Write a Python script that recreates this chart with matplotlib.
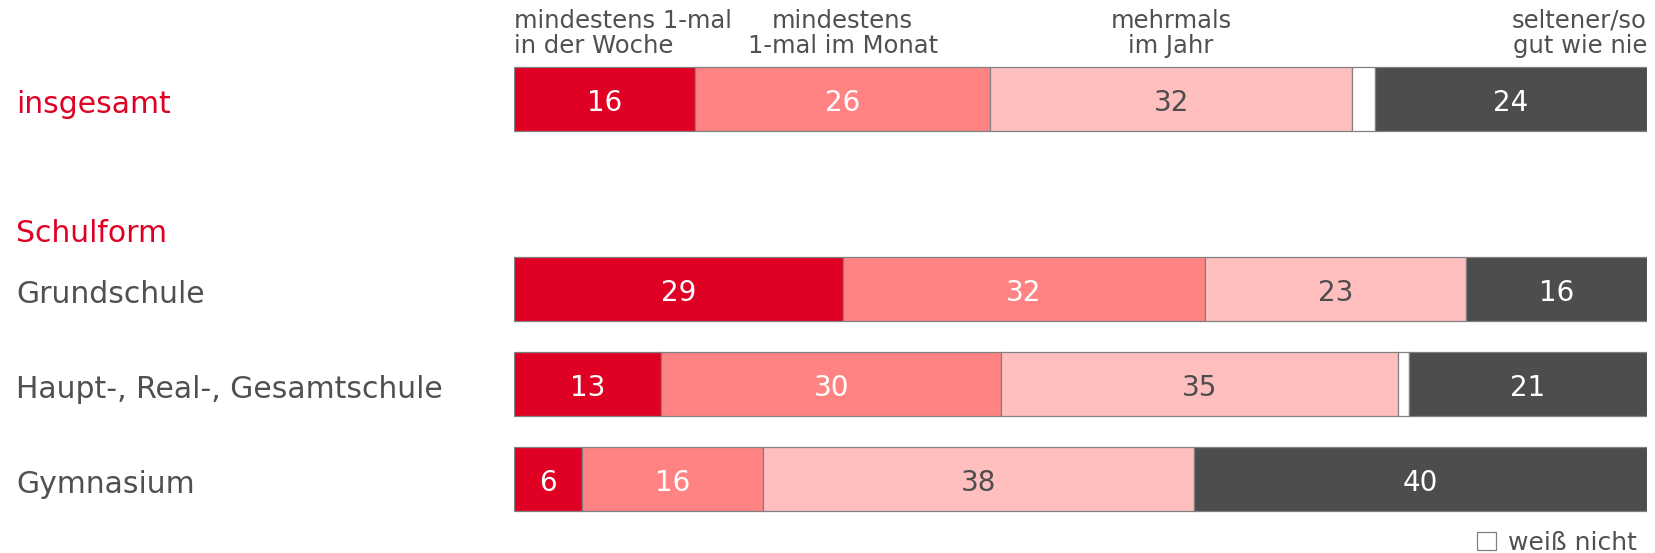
"""Gestapeltes Balkendiagramm: Häufigkeit nach Schulform."""

import matplotlib
matplotlib.use("Agg")
import matplotlib.pyplot as plt
from matplotlib.patches import Patch
from matplotlib.transforms import blended_transform_factory

# --- data -------------------------------------------------------------
rows = ["insgesamt", "Grundschule", "Haupt-, Real-, Gesamtschule", "Gymnasium"]
row_pos = [0, 2, 3, 4]
categories = [
    "mindestens 1-mal\nin der Woche",
    "mindestens\n1-mal im Monat",
    "mehrmals\nim Jahr",
    "weiß nicht",
    "seltener/so\ngut wie nie",
]
values = [
    [16, 26, 32, 2, 24],
    [29, 32, 23, 0, 16],
    [13, 30, 35, 1, 21],
    [6, 16, 38, 0, 40],
]
group_label = "Schulform"

colors = ["#DF0024", "#FF8383", "#FFBFBF", "#FFFFFF", "#4D4D4D"]
text_colors = ["white", "white", "#4D4D4D", "#4D4D4D", "white"]
RED = "#DF0024"
GRAY = "#505050"

plt.rcParams["font.family"] = ["DejaVu Sans"]

W, H, DPI = 1655, 553, 100
fig = plt.figure(figsize=(W / DPI, H / DPI), dpi=DPI)
ax = fig.add_axes([514 / W, 0, (1647 - 514) / W, 1])
# vertical scale: one row step = 95 px, first row centered 99 px from top
step = 95.0
ax.set_ylim((H - 99) / step, -99 / step)
ax.set_xlim(0, 100)
ax.axis("off")

bar_h = 64 / step
for pos, vals in zip(row_pos, values):
    left = 0
    for v, c, tc in zip(vals, colors, text_colors):
        if v > 0:
            ax.barh(pos, v, left=left, height=bar_h, color=c,
                    edgecolor="#808080", linewidth=0.9)
            if c != "#FFFFFF":
                ax.text(left + v / 2, pos + 0.04, f"{v}", ha="center",
                        va="center", color=tc, fontsize=20)
        left += v

# row labels on the left
lab_tr = blended_transform_factory(fig.transFigure, ax.transData)
for i, (pos, name) in enumerate(zip(row_pos, rows)):
    ax.text(16 / W, pos + 0.06, name, transform=lab_tr, ha="left",
            va="center", fontsize=21.5, color=RED if i == 0 else GRAY,
            clip_on=False)
ax.text(16 / W, 1.42, group_label, transform=lab_tr, ha="left", va="center",
        fontsize=21.5, color=RED, clip_on=False)

# column headers above first bar
head_y = -0.69
first = values[0]
starts = [sum(first[:k]) for k in range(len(first))]
header_idx = [0, 1, 2, 4]
for k in header_idx:
    if k == 0:
        x, ha = 0, "left"
    elif k == len(first) - 1:
        x, ha = 100, "right"
    else:
        x, ha = starts[k] + first[k] / 2, "center"
    ax.text(x, head_y, categories[k], ha=ha, va="center", fontsize=17.5,
            color=GRAY, linespacing=1.08, multialignment=ha)

# legend for "weiß nicht"
handle = Patch(facecolor="white", edgecolor="#808080", linewidth=0.9)
fig.legend([handle], [categories[3]], loc="lower right",
           bbox_to_anchor=(1652 / W, -0.03), frameon=False, fontsize=18,
           labelcolor=GRAY, handlelength=0.75, handleheight=0.75,
           handletextpad=0.5, borderaxespad=0.2)

fig.savefig("out.png", dpi=DPI)
plt.close(fig)
